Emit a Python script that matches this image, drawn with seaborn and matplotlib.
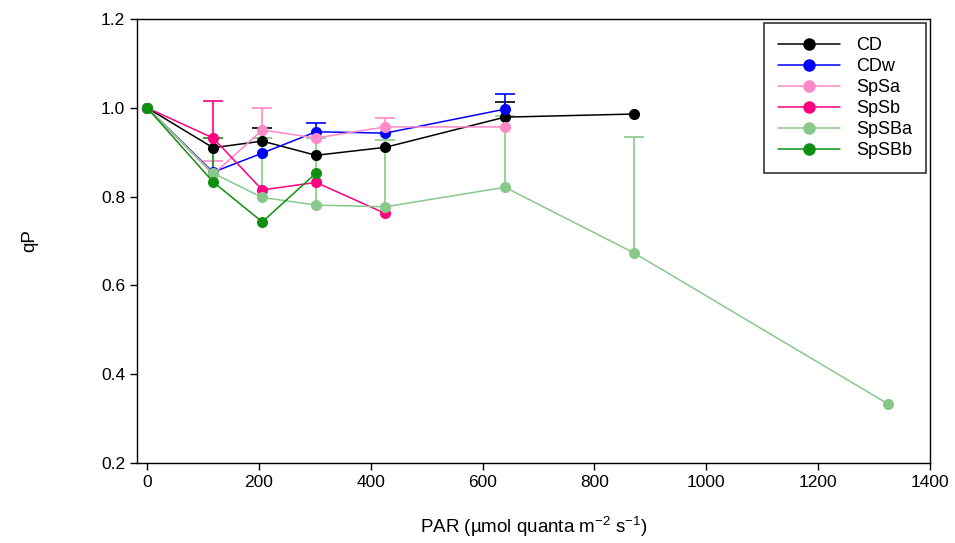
import numpy as np
import pandas as pd
import seaborn as sns
import matplotlib.pyplot as plt

# qP vs PAR for each treatment; err = upper error bar
par_cd = [0, 118, 206, 302, 426, 640, 871]
qp_cd = [1.0, 0.91, 0.925, 0.893, 0.911, 0.979, 0.986]
err_cd = [0, 0, 0.03, 0, 0, 0.034, 0]

par_cdw = [0, 118, 206, 302, 426, 640]
qp_cdw = [1.0, 0.855, 0.898, 0.946, 0.943, 0.997]
err_cdw = [0, 0, 0, 0.019, 0, 0.034]

par_spsa = [0, 118, 206, 302, 426, 640]
qp_spsa = [1.0, 0.85, 0.95, 0.932, 0.957, 0.957]
err_spsa = [0, 0.03, 0.05, 0, 0.02, 0]

par_spsb = [0, 118, 206, 302, 426]
qp_spsb = [1.0, 0.932, 0.815, 0.832, 0.762]
err_spsb = [0, 0.083, 0, 0, 0]

par_spsba = [0, 118, 206, 302, 426, 640, 871, 1325]
qp_spsba = [1.0, 0.853, 0.798, 0.781, 0.777, 0.821, 0.673, 0.333]
err_spsba = [0, 0, 0.135, 0.15, 0.15, 0.16, 0.262, 0]

par_spsbb = [0, 118, 206, 302]
qp_spsbb = [1.0, 0.833, 0.743, 0.853]
err_spsbb = [0, 0.1, 0, 0]

series = {
    "CD": (par_cd, qp_cd, err_cd),
    "CDw": (par_cdw, qp_cdw, err_cdw),
    "SpSa": (par_spsa, qp_spsa, err_spsa),
    "SpSb": (par_spsb, qp_spsb, err_spsb),
    "SpSBa": (par_spsba, qp_spsba, err_spsba),
    "SpSBb": (par_spsbb, qp_spsbb, err_spsbb),
}
colors = {
    "CD": "#000000",
    "CDw": "#0000ff",
    "SpSa": "#ff88c8",
    "SpSb": "#ff0080",
    "SpSBa": "#88c888",
    "SpSBb": "#109010",
}

rows = []
for name, (xs, ys, es) in series.items():
    for x, y, e in zip(xs, ys, es):
        rows.append({"PAR": x, "qP": y, "err": e, "group": name})
df = pd.DataFrame(rows)

sns.set_style("ticks")
plt.rcParams["font.family"] = ["Liberation Sans", "DejaVu Sans"]
plt.rcParams["mathtext.fontset"] = "custom"
plt.rcParams["mathtext.rm"] = "Liberation Sans"
plt.rcParams["mathtext.default"] = "rm"
plt.rcParams["text.color"] = "black"
plt.rcParams["axes.labelcolor"] = "black"

fig = plt.figure(figsize=(9.55, 5.43), dpi=100)
ax = fig.add_axes([0.1435, 0.1473, 0.8303, 0.8177])

# upper-only error bars (hide the lower caps)
for name in series:
    sub = df[(df["group"] == name) & (df["err"] > 0)]
    eb = ax.errorbar(sub["PAR"], sub["qP"], yerr=[np.zeros(len(sub)), sub["err"]],
                     fmt="none", ecolor=colors[name], elinewidth=1.2, capsize=7,
                     capthick=1.2, zorder=2)
    eb[1][0].set_visible(False)

sns.lineplot(data=df, x="PAR", y="qP", hue="group", palette=colors,
             hue_order=list(series), marker="o", markersize=8,
             markeredgewidth=0, linewidth=1.1, sort=False, estimator=None,
             ax=ax, zorder=3)

ax.set_xlim(-18, 1400)
ax.set_ylim(0.2, 1.2)
ax.set_xticks(range(0, 1401, 200))
ax.set_yticks([0.2, 0.4, 0.6, 0.8, 1.0, 1.2])
ax.set_yticklabels(["0.2", "0.4", "0.6", "0.8", "1.0", "1.2"])
ax.tick_params(direction="out", length=5, width=1, labelsize=12.5, colors="black")
for s in ax.spines.values():
    s.set_visible(True)
    s.set_linewidth(1.0)
    s.set_color("black")

ax.set_xlabel("PAR (µmol quanta m$^{-2}$ s$^{-1}$)", fontsize=13.5, labelpad=18)
ax.set_ylabel("qP", fontsize=13.5, labelpad=45)

leg = ax.legend(loc="upper right", fontsize=13, frameon=True, fancybox=False,
                edgecolor="black", handlelength=3.4, borderpad=0.8,
                labelspacing=0.22, borderaxespad=0.2, handletextpad=0.9)
leg.get_frame().set_linewidth(1.2)
for h in leg.get_lines():
    h.set_markersize(9)

fig.savefig("out.png", dpi=100)
